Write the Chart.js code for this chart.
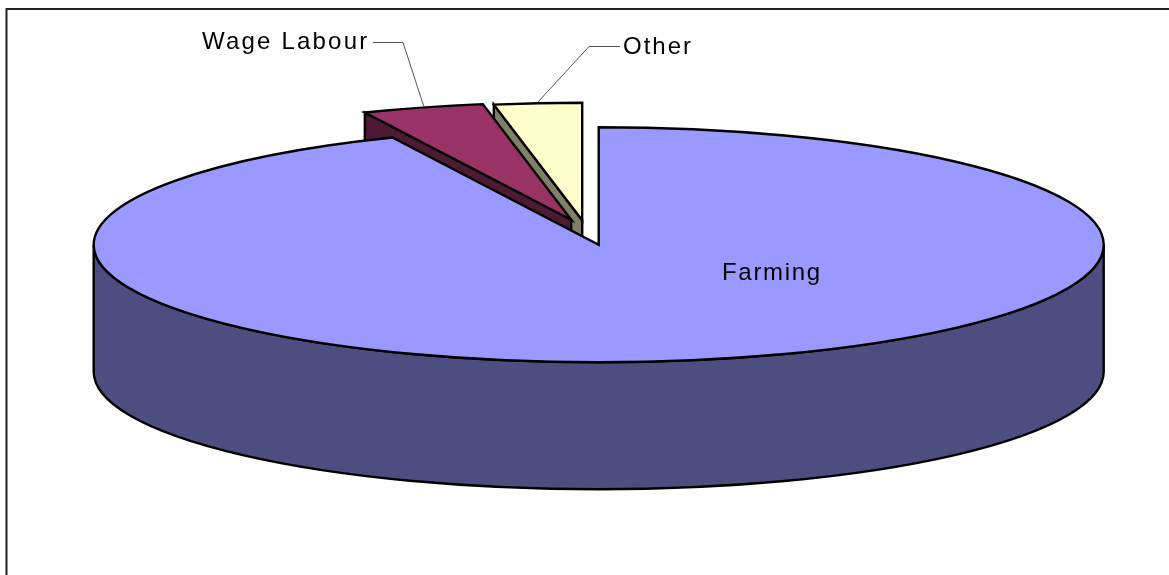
<!DOCTYPE html>
<html>
<head>
<meta charset="utf-8">
<style>html,body{margin:0;padding:0;background:#fff;overflow:hidden}canvas{display:block}</style>
<script src="https://cdn.jsdelivr.net/npm/chart.js@4"></script>
</head>
<body>
<canvas id="c" width="1169" height="575"></canvas>
<script>
const categories = ["Farming", "Wage Labour", "Other"];
const shareValues = [93.3, 3.9, 2.8];
const topColors = ["#9999FF", "#993366", "#FFFFCC"];
const wallColors = ["#4D4D80", "#4D1A33", "#808066"];

// Projection of the flat pie into its tilted 3D look
const view = { cx: 598.7, cy: 244.8, rx: 505, ry: 117.5, depth: 127 };
const explode = [[0, 0], [-27.5, -25], [-16.5, -24.5]];
const drawOrder = [2, 1, 0];
const labelStyle = [
  { x: 722, y: 273.5, spacing: "1.7px", line: null },
  { x: 202, y: 42.5, spacing: "2.2px", line: [[373, 42.5], [403, 42.5], [424, 107]] },
  { x: 623, y: 47.5, spacing: "2px", line: [[620, 46.5], [589, 46.5], [538, 102]] }
];

const pie3d = {
  id: "pie3d",
  beforeDatasetsDraw(chart) {
    const ctx = chart.ctx;
    const arcs = chart.getDatasetMeta(0).data;
    const { cx, cy, rx, ry, depth } = view;

    ctx.save();
    ctx.strokeStyle = "#222";
    ctx.lineWidth = 2;
    ctx.beginPath();
    ctx.moveTo(6.5, 575);
    ctx.lineTo(6.5, 9);
    ctx.lineTo(1169, 9);
    ctx.stroke();
    ctx.restore();

    const setStroke = () => {
      ctx.strokeStyle = "#000";
      ctx.lineWidth = 2.4;
      ctx.lineJoin = "miter";
      ctx.miterLimit = 6;
    };

    drawOrder.forEach(i => {
      const arc = arcs[i];
      const [ox, oy] = explode[i];
      const px = cx + ox, py = cy + oy;
      const sa = arc.startAngle, ea = arc.endAngle;
      setStroke();

      if (ox === 0 && oy === 0) {
        // outer wall, front half of the rim
        ctx.beginPath();
        ctx.ellipse(px, py, rx, ry, 0, 0, Math.PI);
        ctx.lineTo(px - rx, py + depth);
        ctx.ellipse(px, py + depth, rx, ry, 0, Math.PI, 0, true);
        ctx.closePath();
        ctx.fillStyle = wallColors[i];
        ctx.fill();
        ctx.stroke();
      } else {
        // cut wall at the start edge of the exploded slice
        const ex = px + rx * Math.cos(sa), ey = py + ry * Math.sin(sa);
        ctx.beginPath();
        ctx.moveTo(px, py);
        ctx.lineTo(ex, ey);
        ctx.lineTo(ex, ey + depth);
        ctx.lineTo(px, py + depth);
        ctx.closePath();
        ctx.fillStyle = wallColors[i];
        ctx.fill();
        ctx.stroke();
      }

      // top face: the library's arc element under the projection
      ctx.save();
      ctx.translate(px, py);
      ctx.scale(rx / arc.outerRadius, ry / arc.outerRadius);
      ctx.translate(-arc.x, -arc.y);
      arc.draw(ctx);
      ctx.restore();

      ctx.beginPath();
      ctx.moveTo(px, py);
      ctx.ellipse(px, py, rx, ry, 0, sa, ea);
      ctx.closePath();
      ctx.stroke();
    });

    // labels and leader lines
    ctx.save();
    labelStyle.forEach((s, i) => {
      if (s.line) {
        ctx.strokeStyle = "#555";
        ctx.lineWidth = 1;
        ctx.beginPath();
        s.line.forEach((p, k) => k ? ctx.lineTo(p[0], p[1]) : ctx.moveTo(p[0], p[1]));
        ctx.stroke();
      }
      ctx.fillStyle = "#000";
      ctx.font = '24px "Liberation Sans", Arial, sans-serif';
      ctx.letterSpacing = s.spacing;
      ctx.textAlign = "left";
      ctx.textBaseline = "middle";
      ctx.fillText(categories[i], s.x, s.y);
    });
    ctx.restore();
    return false;
  }
};

new Chart(document.getElementById("c"), {
  type: "pie",
  data: {
    labels: categories,
    datasets: [{ data: shareValues, backgroundColor: topColors, borderWidth: 0 }]
  },
  options: {
    responsive: false,
    animation: false,
    plugins: { legend: { display: false }, tooltip: { enabled: false } }
  },
  plugins: [pie3d]
});
</script>
</body>
</html>
